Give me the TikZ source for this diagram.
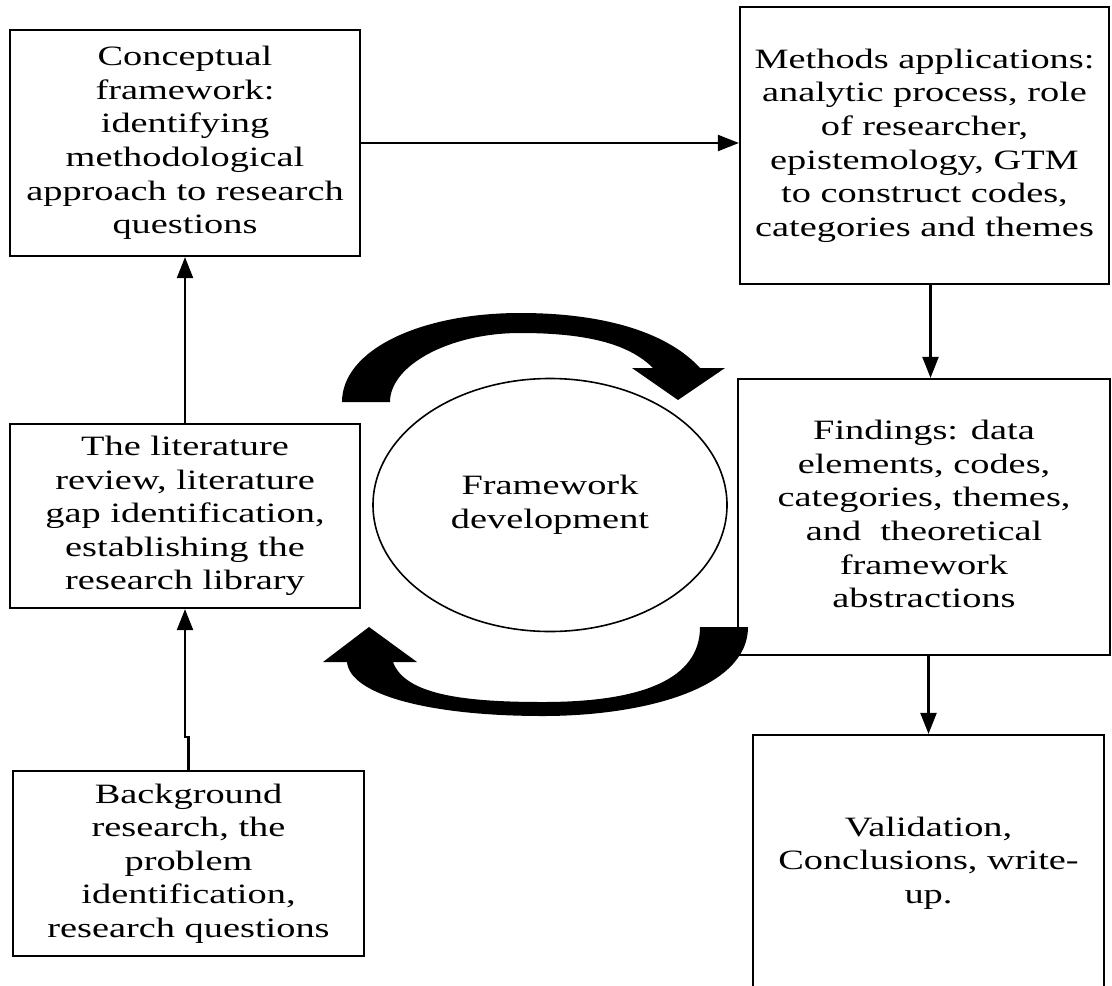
\documentclass[tikz,border=0pt]{standalone}
\usepackage{fontspec}
\setmainfont{Liberation Serif}
\usepackage{graphicx}
\usepackage{tikz}
\usetikzlibrary{arrows.meta,shapes.geometric}
\newcommand{\wtext}[1]{\scalebox{1.37}[1]{\begin{tabular}{@{}c@{}}#1\end{tabular}}}

\begin{document}
\begin{tikzpicture}[x=0.5pt,y=-0.5pt,
		box/.style={draw,line width=1.1pt,inner sep=0pt,font=\fontsize{14}{16.8}\selectfont},
		arr/.style={line width=1.1pt,-{Triangle[length=10.5pt,width=8pt]}}]
			\useasboundingbox (0,0) rectangle (1112,985);
			\node[box,minimum width=175pt,minimum height=113pt](concept) at (185,143) {\wtext{Conceptual\\framework:\\identifying\\methodological\\approach to research\\questions}};
			\node[box,minimum width=184.5pt,minimum height=138.5pt](methods) at (924.5,145.5) {\wtext{Methods applications:\\analytic process, role\\of researcher,\\epistemology, GTM\\to construct codes,\\categories and themes}};
			\node[box,minimum width=186pt,minimum height=138pt](finds) at (924,517) {\wtext{Findings: data\\elements, codes,\\categories, themes,\\and~ theoretical\\framework\\abstractions}};
			\node[box,minimum width=175pt,minimum height=92pt](lit) at (185,516) {\wtext{The literature\\review, literature\\gap identification,\\establishing the\\research library}};
			\node[box,minimum width=175.5pt,minimum height=92.5pt](backg) at (188.5,863.5) {\wtext{Background\\research, the\\problem\\identification,\\research questions}};
			\begin{scope}
				\clip (0,0) rectangle (1112,985);
				\node[box,minimum width=175.5pt,minimum height=128pt](valid) at (928.5,863) {\wtext{Validation,\\Conclusions, write-\\up.}};
			\end{scope}
			\node[box,ellipse,line width=0.8pt,minimum width=177pt,minimum height=126.5pt](fw) at (550,505) {\wtext{Framework\\development}};
			\fill (342,402) .. controls (342,350) and (420,313) .. (520,313) .. controls (610,313) and (670,335) .. (700,368) -- (725,368) -- (678,400) -- (632,368) -- (653,368) .. controls (630,345) and (590,333) .. (520,333) .. controls (450,333) and (390,365) .. (390,402) -- cycle;
			\fill (700,627) -- (748,627) .. controls (748,690) and (640,716) .. (543,716) .. controls (430,716) and (350,695) .. (347,662) -- (323,662) -- (369,627) -- (417,662) -- (393,662) .. controls (405,695) and (465,702) .. (543,702) .. controls (640,702) and (700,680) .. (700,627) -- cycle;
			\draw[arr] (concept.east)--(methods.west |- concept.east);
			\draw[arr] ([xshift=3pt]methods.south)--([xshift=3pt]methods.south |- finds.north);
			\draw[arr] (lit.north)--(concept.south);
			\draw[arr] (backg.north)--++(0,-33)-|(lit.south);
			\draw[arr] (valid.north |- finds.south)--(valid.north);
		\end{tikzpicture}
\end{document}
